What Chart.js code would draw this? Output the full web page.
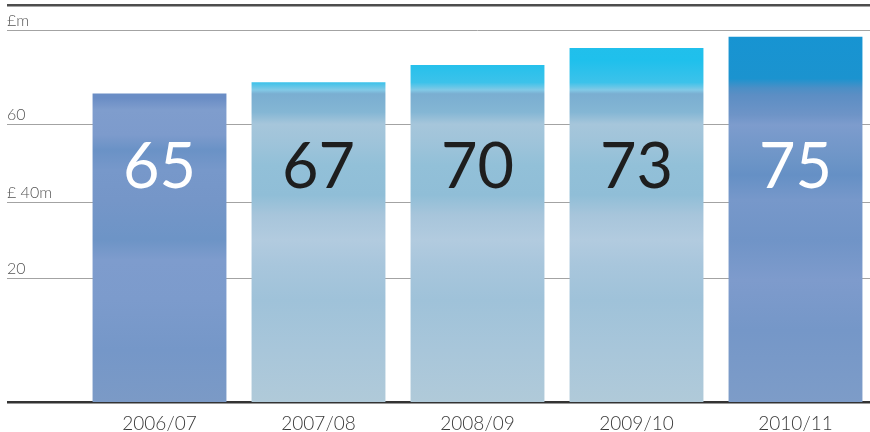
<!DOCTYPE html>
<html>
<head>
<meta charset="utf-8">
<title>£m 2006/07 - 2010/11</title>
<script src="https://cdn.jsdelivr.net/npm/chart.js@4.4.1/dist/chart.umd.min.js"></script>
<style>
    html, body { margin: 0; padding: 0; background: #fff; }
    #wrap { width: 870px; height: 432px; overflow: hidden; }
</style>
</head>
<body>
<div id="wrap"><canvas id="myChart" width="875" height="432"></canvas></div>
<script>

var years = ['2006/07', '2007/08', '2008/09', '2009/10', '2010/11'];
var amounts = [65, 67, 70, 73, 75];

// the printed axis is decorative, its lines do not sit on round values
var tickValues = [10.6, 32.4, 45.7, 59.5, 76.1, 80.6];
var tickLabels = ['', '20', '£ 40m', '60', '£m', ''];

var barTones = ['dusk', 'sky', 'sky', 'sky', 'deep'];
var numberColors = ['#ffffff', '#1e1e1e', '#1e1e1e', '#1e1e1e', '#ffffff'];

// colour stops, 0 = top of plot, 1 = base line
var fills = {
    sky: [
        [0.081, '#22bfeb'], [0.139, '#1fc0ec'], [0.195, '#3cc2ea'], [0.214, '#82c9e6'],
        [0.224, '#7aaed1'], [0.270, '#84b6d4'], [0.300, '#a6c6db'], [0.340, '#a0c4da'],
        [0.403, '#92c0d8'], [0.479, '#90bed7'], [0.529, '#a7c5db'], [0.592, '#b2cbdf'],
        [0.655, '#a8c6dc'], [0.743, '#9fc2d9'], [0.869, '#a8c6da'], [1, '#b0cad9']
    ],
    dusk: [
        [0.234, '#6a8dc5'], [0.264, '#7f9dcd'], [0.327, '#7d9bcc'], [0.365, '#6a92c6'],
        [0.416, '#7798ca'], [0.491, '#7596c8'], [0.592, '#6d94c6'], [0.642, '#7e9ccd'],
        [0.743, '#7c9bcc'], [0.869, '#7597c8'], [1, '#7b9ac6']
    ],
    deep: [
        [0.081, '#1794d2'], [0.185, '#1b93cf'], [0.209, '#4b8fc6'], [0.227, '#5c8ec4'],
        [0.277, '#6e94c7'], [0.302, '#7d9ccd'], [0.390, '#6d95c7'], [0.428, '#6590c5'],
        [0.491, '#7798ca'], [0.592, '#7094c7'], [0.693, '#7e9bcc'], [0.819, '#7597c8'],
        [1, '#7d9cc8']
    ]
};

function barFill(context) {
    var chart = context.chart;
    var area = chart.chartArea;
    var stops = fills[barTones[context.dataIndex]];
    if (!area) {
        return stops[stops.length - 1][1];
    }
    var g = chart.ctx.createLinearGradient(0, area.top, 0, area.bottom);
    stops.forEach(function (s) {
        g.addColorStop(s[0], s[1]);
    });
    return g;
}

// big numbers printed inside each bar
var barNumbers = {
    id: 'barNumbers',
    afterDraw: function (chart) {
        var ctx = chart.ctx;
        var meta = chart.getDatasetMeta(0);
        var values = chart.data.datasets[0].data;
        ctx.save();
        ctx.font = '400 63px Lato';
        ctx.textAlign = 'center';
        ctx.textBaseline = 'alphabetic';
        meta.data.forEach(function (bar, i) {
            ctx.fillStyle = numberColors[i];
            ctx.fillText(String(values[i]), bar.x, chart.chartArea.top + 183);
        });
        ctx.restore();
    }
};

var last = tickValues.length - 1;

const ctx = document.getElementById('myChart').getContext('2d');
const myChart = new Chart(ctx, {
    type: 'bar',
    data: {
        labels: years,
        datasets: [{
            data: amounts,
            backgroundColor: barFill,
            borderWidth: 0,
            barPercentage: 0.842,
            categoryPercentage: 1
        }]
    },
    options: {
        responsive: false,
        animation: false,
        layout: {
            padding: { left: 7, right: 0, top: 5, bottom: 0 }
        },
        plugins: {
            legend: { display: false },
            tooltip: { enabled: false }
        },
        scales: {
            x: {
                grid: { display: false, drawTicks: false },
                border: { display: false },
                afterFit: function (scale) { scale.height = 30; },
                ticks: {
                    padding: 10,
                    maxRotation: 0,
                    color: '#3a3a3a',
                    font: { family: 'Lato', size: 19, weight: '300' }
                }
            },
            y: {
                min: tickValues[0],
                max: tickValues[last],
                z: 1,
                afterBuildTicks: function (scale) {
                    scale.ticks = tickValues.map(function (v) { return { value: v }; });
                },
                afterFit: function (scale) {
                    scale.width = 73;
                    scale.paddingTop = 0;
                    scale.paddingBottom = 0;
                },
                border: { display: false },
                grid: {
                    drawTicks: true,
                    tickLength: 73,
                    color: function (c) {
                        if (c.index === 0) return '#333333';
                        if (c.index === last) return '#4d4d4d';
                        return '#a3a3a3';
                    },
                    lineWidth: function (c) {
                        if (c.index === 0 || c.index === last) return 2.5;
                        return 1;
                    }
                },
                ticks: {
                    autoSkip: false,
                    crossAlign: 'far',
                    padding: 0,
                    labelOffset: -10,
                    color: '#555555',
                    font: { family: 'Lato', size: 16, weight: '300' },
                    callback: function (value, index) {
                        return tickLabels[index];
                    }
                }
            }
        }
    },
    plugins: [barNumbers]
});

</script>
</body>
</html>
